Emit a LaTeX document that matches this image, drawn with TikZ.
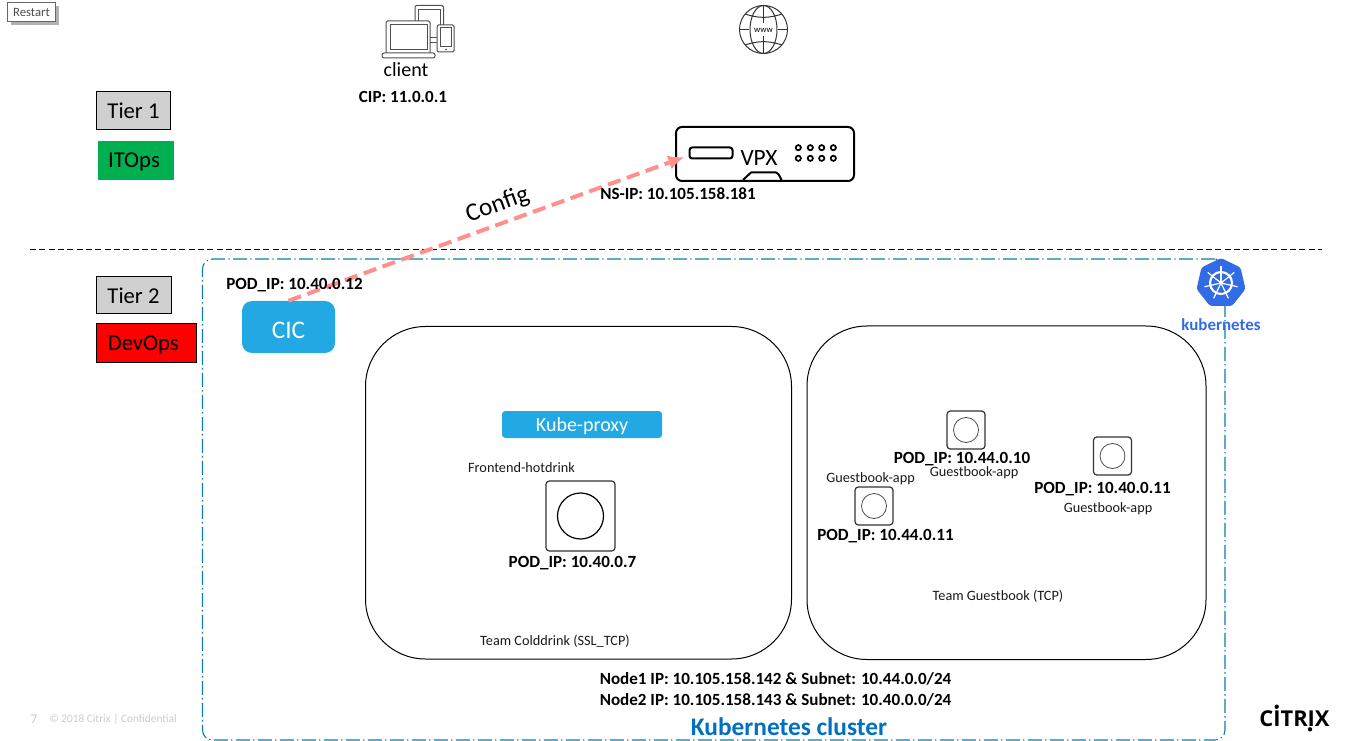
\documentclass[tikz,border=0pt]{standalone}
\usepackage{fontspec}
\setmainfont{Carlito}
\newfontfamily\logofont{Open Sans}
\usetikzlibrary{arrows.meta}
\definecolor{tiergray}{HTML}{D0D0D0}
\definecolor{opsgreen}{HTML}{00B050}
\definecolor{cicblue}{HTML}{22A8E2}
\definecolor{clusterline}{HTML}{0B7FAB}
\definecolor{clustertext}{HTML}{0070C0}
\definecolor{kubeblue}{HTML}{326CE5}
\definecolor{configred}{HTML}{FF8F8A}
\definecolor{iconline}{HTML}{505050}
\tikzset{
  boxsize/.style 2 args={minimum width=#1*0.75pt,minimum height=#2*0.75pt,inner sep=0pt},
  tierbox/.style={draw=black,line width=0.75pt,font=\fontsize{17}{17}\selectfont},
  bluebox/.style={fill=cicblue,text=white},
  teamarea/.style={draw=black,line width=0.75pt,rounded corners=45pt},
  podbox/.style={draw=black!80,line width=0.9pt,rounded corners=2.5pt},
  iplabel/.style={inner sep=0pt,yshift=-0.5pt,font=\fontsize{12.8}{13}\selectfont\bfseries},
  smalllabel/.style={inner sep=0pt,yshift=-0.5pt,font=\fontsize{10.7}{11}\selectfont,text=black!90},
}
\begin{document}
\begin{tikzpicture}[x=0.75pt,y=-0.75pt]
\useasboundingbox (0,0) rectangle (1359,741);

%Restart button
\fill [black!30] (11,6) rectangle (59,25);
\node [boxsize={48}{19},draw=black!60,fill=white,line width=0.75pt,text=black!70,font=\fontsize{9.5}{9.5}\selectfont] (restart) at (31.5,12) {Restart};

%Tiers
\node [tierbox,boxsize={74}{38},fill=tiergray] (tierone) at (133.5,111) {Tier 1};
\node [boxsize={76}{39},fill=opsgreen,font=\fontsize{17}{17}\selectfont,text height=11.5pt,text depth=1.7pt] (itops) at (136,160.5) {\hspace*{-3pt}ITOps};
\node [tierbox,boxsize={75}{37},fill=tiergray] (tiertwo) at (133.5,295.5) {Tier 2};
\node [tierbox,boxsize={100}{38},fill=red,text height=11.5pt,text depth=0pt] (devops) at (146,343) {\hspace*{-4pt}DevOps};

%Separator
\coordinate (sepleft) at (30,249.5);
\coordinate (sepright) at (1322,249.5);
\draw [dashed,line width=0.75pt,dash pattern=on 4.5pt off 2.5pt] (sepleft) -- (sepright);

%Cluster
\node [boxsize={1022.5}{481},draw=clusterline,line width=0.85pt,rounded corners=7.5pt,dash pattern=on 10.5pt off 2.5pt on 1pt off 2.5pt] (cluster) at (713.75,499.5) {};
\node [font=\fontsize{19}{19}\selectfont\bfseries,text=clustertext,inner sep=0pt] (clusterlabel) at (789,727) {Kubernetes cluster};

%Team areas
\node [teamarea,boxsize={426}{332.5}] (colddrink) at (578.5,492.75) {};
\node [teamarea,boxsize={399}{333.5}] (guestbook) at (1006.5,492.75) {};
\node [smalllabel] (colddrinklabel) at (555,641) {Team Colddrink (SSL\_TCP)};
\node [smalllabel] (guestbooklabel) at (998,596) {Team Guestbook (TCP)};

%Blue boxes
\node [bluebox,boxsize={93}{52},rounded corners=7.5pt,font=\fontsize{19}{19}\selectfont,text height=17pt,text depth=0pt] (cic) at (288.5,327) {CIC};
\node [bluebox,boxsize={160}{27},rounded corners=2.5pt,font=\fontsize{15}{15}\selectfont,text height=10.5pt,text depth=0pt] (kubeproxy) at (582,424.5) {Kube-proxy};

%Pods
\node [podbox,boxsize={69}{70}] (podhot) at (580.5,516) {};
\node [draw=black,line width=0.9pt,circle,minimum size=34.5pt,inner sep=0pt] (podhotin) at (podhot) {};
\node [podbox,boxsize={38}{38}] (podten) at (966,430) {};
\node [draw=black!70,line width=0.6pt,circle,minimum size=18.75pt,inner sep=0pt] (podtenin) at (podten) {};
\node [podbox,boxsize={38}{38}] (podright) at (1112.5,456) {};
\node [draw=black!70,line width=0.6pt,circle,minimum size=18.75pt,inner sep=0pt] (podrightin) at (podright) {};
\node [podbox,boxsize={38}{38}] (podleft) at (874,506) {};
\node [draw=black!70,line width=0.6pt,circle,minimum size=18.75pt,inner sep=0pt] (podleftin) at (podleft) {};

%VPX
\node [boxsize={178}{54},draw=black,line width=1.5pt,rounded corners=4.5pt] (vpx) at (765,154) {};
\node [boxsize={43}{11},draw=black,line width=1.5pt,rounded corners=2pt] (vpxslot) at (711,153) {};
\node [inner sep=0pt,font=\fontsize{17.5}{18}\selectfont] (vpxlabel) at (759,158) {VPX};
\foreach \px in {798.3,810.3,821.7,833.3}
  \foreach \py in {147.7,158.3}
    \draw [line width=1.3pt] (\px,\py) circle [radius=2.6];
\draw [line width=1.5pt,line join=round] (743,180) -- (751,172.5) -- (776,172.5) to [out=0,in=-90] (782,180);

%Config arrow
\draw [-{Latex[length=12pt,width=11pt]},configred,line width=3pt,dash pattern=on 10pt off 5pt] (cic.north) -- ([xshift=7pt,yshift=-2.25pt]vpx.west);
\node [rotate=20,inner sep=0pt,font=\fontsize{19}{19}\selectfont] (configlabel) at (497.5,205) {Config};

%Client icon
\begin{scope}[iconline,line width=0.75pt]
\draw [rounded corners=1pt] (386,53) -- (386,21) -- (430,21) -- (430,53);
\draw (390,24.5) rectangle (427,50);
\draw [rounded corners=1.5pt] (382,53) rectangle (435,58);
\draw [rounded corners=1pt] (415,21) -- (415,5.5) -- (443.5,5.5) -- (443.5,25);
\draw (418,21) -- (418,9.5) -- (440,9.5) -- (440,25);
\draw (430,38) -- (437,38);
\draw (430,43) -- (437,43);
\draw [rounded corners=1pt] (437,25) rectangle (454,52);
\draw (440,28) rectangle (451,47);
\fill (446,49.5) circle [radius=1];
\end{scope}
\node [inner sep=0pt,font=\fontsize{15}{15}\selectfont] (clientlabel) at (406,70) {client};

%Globe icon
\begin{scope}[black!80,line width=0.75pt]
\draw (763.5,29.5) circle [radius=24];
\draw (763.5,29.5) ellipse [x radius=13.5,y radius=24];
\draw (763.5,5.5) -- (763.5,23);
\draw (763.5,36) -- (763.5,53.5);
\draw (739.5,29.5) -- (749,29.5);
\draw (778,29.5) -- (787.5,29.5);
\draw (745,14) to [bend right=18] (782,14);
\draw (745,45) to [bend left=18] (782,45);
\end{scope}
\node [inner sep=0pt,font=\fontsize{6.5}{7}\selectfont] (wwwlabel) at (763.5,30) {www};

%Kubernetes logo
\fill [kubeblue,rounded corners=2pt] (1221,258) -- (1240.5,267.5) -- (1245.5,289) -- (1232,306) -- (1210,306) -- (1196.5,289) -- (1201.5,267.5) -- cycle;
\draw [white,line width=1.6pt] (1221,283) circle [radius=11];
\fill [white] (1221,283) circle [radius=1.8];
\foreach \a in {-90,-38.6,12.9,64.3,115.7,167.1,218.6}
  \draw [white,line width=0.9pt] (1221,283) -- ++(\a:17);
\node [inner sep=0pt,text=kubeblue,font=\fontsize{12.7}{13}\selectfont\bfseries] (kubelabel) at (1221,325) {kubernetes};

%Names
\node [iplabel] (cip) at (403,96) {CIP: 11.0.0.1};
\node [iplabel] (nsip) at (678,193) {NS-IP: 10.105.158.181};
\node [iplabel] (cicip) at (294.5,284) {POD\_IP: 10.40.0.12};
\node [iplabel] (hotip) at (572.5,562) {POD\_IP: 10.40.0.7};
\node [iplabel] (tenip) at (962,458) {POD\_IP: 10.44.0.10};
\node [iplabel] (rightip) at (1102.5,488) {POD\_IP: 10.40.0.11};
\node [iplabel] (leftip) at (885.5,535) {POD\_IP: 10.44.0.11};
\node [iplabel] (nodeone) at (775.5,678) {Node1 IP: 10.105.158.142 \& Subnet: 10.44.0.0/24};
\node [iplabel] (nodetwo) at (775.5,699) {Node2 IP: 10.105.158.143 \& Subnet: 10.40.0.0/24};
\node [smalllabel] (hotlabel) at (521.5,466.5) {Frontend-hotdrink};
\node [smalllabel] (tenlabel) at (974,472) {Guestbook-app};
\node [smalllabel] (leftlabel) at (870.5,478) {Guestbook-app};
\node [smalllabel] (rightlabel) at (1108,508) {Guestbook-app};

%Footer
\node [inner sep=0pt,text=black!20,font=\fontsize{10}{10}\selectfont] (pagenum) at (34,719) {7};
\node [inner sep=0pt,anchor=west,text=black!20,font=\fontsize{8.5}{8.5}\selectfont] (footer) at (49,719.5) {© 2018 Citrix | Confidential};
\node [inner sep=0pt,font=\logofont\fontsize{16.4}{16.4}\selectfont\bfseries] (citrix) at (1294.5,719) {CITRIX};
\fill (1276.7,706.7) circle [radius=2.2];
\fill (1310,729.3) circle [radius=2.2];

\end{tikzpicture}
\end{document}
